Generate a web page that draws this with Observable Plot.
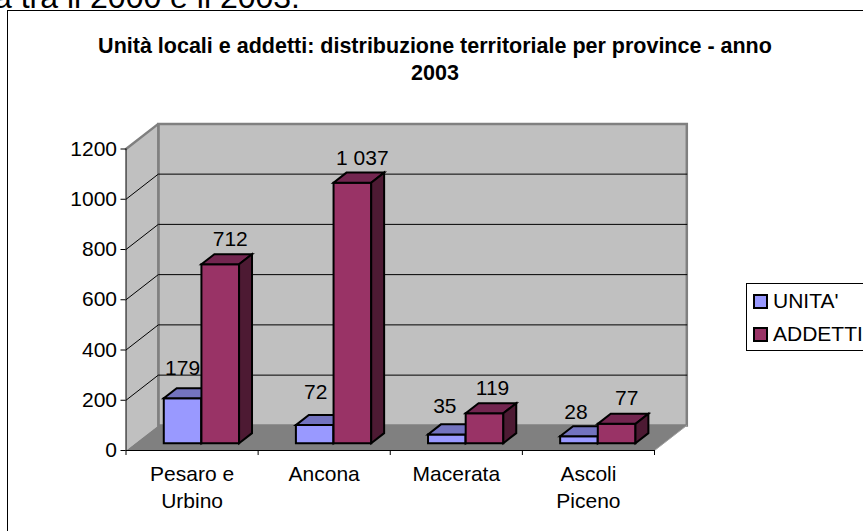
<!DOCTYPE html>
<html><head><meta charset="utf-8">
<script src="https://cdn.jsdelivr.net/npm/d3@7"></script>
<script src="https://cdn.jsdelivr.net/npm/@observablehq/plot@0.6"></script>
<style>
html,body{margin:0;padding:0;background:#fff;overflow:hidden;width:863px;height:531px}
body{position:relative;font-family:"Liberation Sans",Arial,sans-serif;color:#000}
#frame{position:absolute;left:7px;top:10px;width:900px;height:600px;border:1px solid #000;box-sizing:border-box}
#lead{position:absolute;left:-6px;top:-19px;font-size:32px;line-height:32px;white-space:nowrap}
#title{position:absolute;left:35px;width:800px;top:33px;text-align:center;font-weight:bold;font-size:21.5px;line-height:27px;white-space:pre}
#chart{position:absolute;left:0;top:0}
#legend{position:absolute;left:746px;top:283px;width:140px;height:68px;border:1px solid #000;box-sizing:border-box;background:#fff}
.item{position:absolute;left:6px;font-size:21px;line-height:24px;white-space:nowrap;padding-left:20px}
.sw{position:absolute;left:0;top:5px;width:15px;height:15px;border:2px solid #000;box-sizing:border-box}
</style></head>
<body>
<div id="frame"></div>
<div id="lead"></div>
<div id="title"></div>
<div id="chart"></div>
<div id="legend"></div>
<script>
const leadText = "à tra il 2000 e il 2003.";
const titleLines = "Unità locali e addetti: distribuzione territoriale per province - anno\n2003";
const categories = ["Pesaro e\nUrbino", "Ancona", "Macerata", "Ascoli\nPiceno"];
const seriesNames = ["UNITA'", "ADDETTI"];
const unita = [179, 72, 35, 28];
const addetti = [712, 1037, 119, 77];
const yTicks = [0, 200, 400, 600, 800, 1000, 1200];
const fronts = ["#9999FF", "#993366"];
const tops = ["#7373BF", "#732650"];
const sides = ["#4D4D80", "#4D1A33"];

// oblique projection of the 3D data space onto the x/y scales
const depthX = 0.2445, depthY = 100;
const P = (c, v, d) => ({x: c + depthX * d, y: v + depthY * d});
const poly = (pts, o) => Plot.line(pts, {x: "x", y: "y", curve: "linear-closed", strokeLinejoin: "miter", strokeMiterlimit: 8, ...o});

const nCat = categories.length, yMax = 1200;
const wallStyle = {fill: "#C0C0C0", stroke: "#808080", strokeWidth: 2.5};
const marks = [
  poly([P(0,0,1), P(nCat,0,1), P(nCat,yMax,1), P(0,yMax,1)], wallStyle),
  poly([P(0,0,0), P(0,0,1), P(0,yMax,1), P(0,yMax,0)], {fill: "#C0C0C0", stroke: "none"}),
  Plot.line([P(0,yMax,0), P(0,yMax,1), P(0,0,1)], {x: "x", y: "y", stroke: "#808080", strokeWidth: 2.5, strokeLinejoin: "miter"}),
];
for (const v of yTicks.slice(1, -1)) {
  marks.push(Plot.line([P(0,v,0), P(0,v,1), P(nCat,v,1)], {x: "x", y: "y", stroke: "#000", strokeWidth: 1}));
}
marks.push(poly([P(0,0,0), P(nCat,0,0), P(nCat,0,1), P(0,0,1)], {fill: "#808080", stroke: "none"}));
marks.push(Plot.line([P(nCat,0,0), P(nCat,0,1)], {x: "x", y: "y", stroke: "#A0A0A0", strokeWidth: 1}));

const barStart = 0.215, barW = 0.285, d0 = 0.29, d1 = 0.69;
const fmt = d3.formatLocale({thousands: " ", grouping: [3], decimal: ","}).format(",d");
const barStyle = {stroke: "#000", strokeWidth: 2};
categories.forEach((_, i) => {
  [unita, addetti].forEach((vals, s) => {
    const a = i + barStart + s * barW, b = a + barW, v = vals[i];
    marks.push(poly([P(a,0,d0), P(b,0,d0), P(b,v,d0), P(a,v,d0)], {...barStyle, fill: fronts[s]}));
    marks.push(poly([P(a,v,d0), P(b,v,d0), P(b,v,d1), P(a,v,d1)], {...barStyle, fill: tops[s]}));
    marks.push(poly([P(b,0,d0), P(b,0,d1), P(b,v,d1), P(b,v,d0)], {...barStyle, fill: sides[s]}));
  });
});
// value labels, each nudged the way the original placed it
[[[0,-23],[1,-26],[-2,-21],[-3,-17]], [[10,-18],[10,-18],[8,-18],[10,-19]]].forEach((nudges, s) => {
  const vals = s ? addetti : unita;
  vals.forEach((v, i) => {
    marks.push(Plot.text([v], {
      x: () => i + barStart + s * barW + barW / 2 + depthX * d0,
      y: d => d + depthY * d0,
      text: d => fmt(d),
      dx: nudges[i][0], dy: nudges[i][1], lineAnchor: "bottom", fontSize: 21, fill: "#000"
    }));
  });
});
marks.push(
  Plot.ruleX([0], {stroke: "#000", strokeWidth: 1}),
  Plot.ruleY([0], {stroke: "#000", strokeWidth: 1}),
  Plot.axisY({ticks: yTicks, tickSize: 5, tickFormat: d => String(d), fontSize: 21, label: null, tickPadding: 4}),
  Plot.axisX({ticks: d3.range(nCat + 1), tickSize: 5, tickFormat: () => "", label: null}),
  Plot.axisX({ticks: categories.map((_, i) => i + 0.5), tickSize: 0, tickPadding: 12,
    tickFormat: d => categories[d - 0.5], fontSize: 21, lineHeight: 1.27, lineAnchor: "top", label: null})
);

const chart = Plot.plot({
  width: 863, height: 531,
  marginLeft: 125.5, marginRight: 209, marginTop: 148.5, marginBottom: 81,
  x: {type: "linear", domain: [0, nCat]},
  y: {type: "linear", domain: [0, yMax]},
  style: {background: "transparent", fontFamily: "'Liberation Sans',Arial,sans-serif", color: "#000", overflow: "visible"},
  marks
});
document.getElementById("chart").append(chart);
document.getElementById("lead").textContent = leadText;
document.getElementById("title").textContent = titleLines;
const legend = document.getElementById("legend");
seriesNames.forEach((n, s) => {
  const it = document.createElement("div");
  it.className = "item"; it.style.top = (5 + s * 33) + "px"; it.textContent = n;
  const sw = document.createElement("div");
  sw.className = "sw"; sw.style.background = fronts[s];
  it.prepend(sw); legend.append(it);
});
</script>
</body></html>
